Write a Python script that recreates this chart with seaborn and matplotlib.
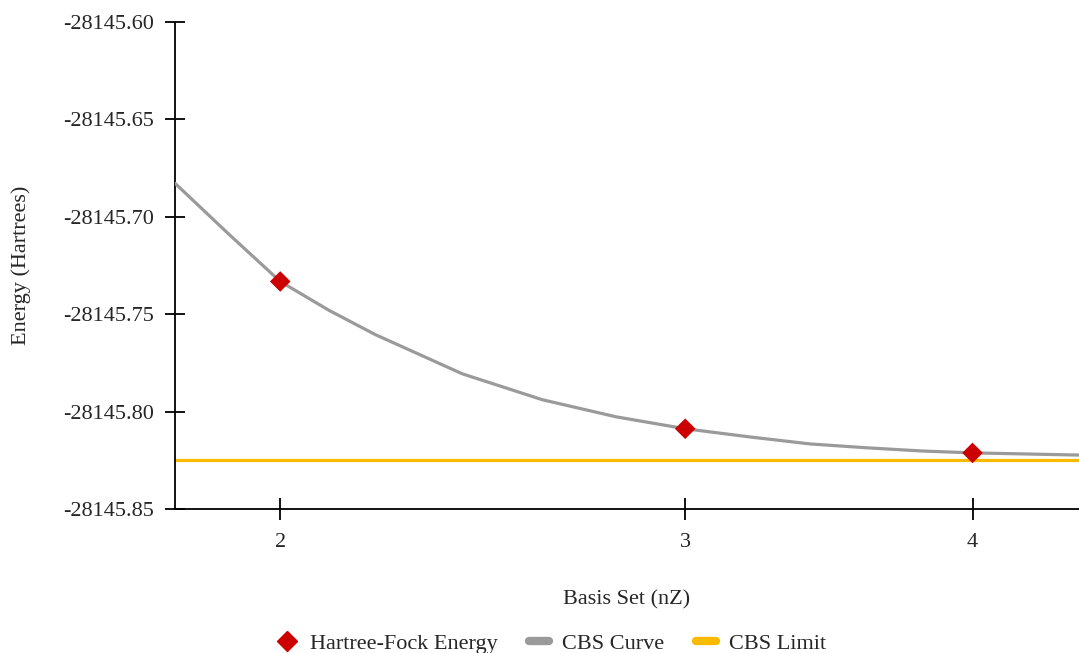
import numpy as np
import pandas as pd
import seaborn as sns
import matplotlib.pyplot as plt
from matplotlib.ticker import FixedLocator, FixedFormatter, NullLocator, FormatStrFormatter
from matplotlib.lines import Line2D

# --- data ---
basis_n = [2, 3, 4]
hf_energy = [-28145.7332, -28145.8088, -28145.8212]

curve_n = [1.8, 1.9, 2.0, 2.1, 2.2, 2.4, 2.6, 2.8, 3.0, 3.2, 3.4, 3.6, 3.8, 4.0, 4.2, 4.4, 4.45]
curve_energy = [-28145.6828, -28145.7090, -28145.7332, -28145.7480, -28145.7605,
                -28145.7806, -28145.7939, -28145.8027, -28145.8088, -28145.8130,
                -28145.8166, -28145.8186, -28145.8202, -28145.8212, -28145.8217,
                -28145.8222, -28145.8223]

cbs_limit = -28145.8248

hf_df = pd.DataFrame({"n": basis_n, "energy": hf_energy})
curve_df = pd.DataFrame({"n": curve_n, "energy": curve_energy})

sns.set_style("white")
plt.rcParams["font.family"] = ["Liberation Serif", "DejaVu Serif"]

RED = "#cc0000"
GRAY = "#9a9a9a"
GOLD = "#fbb900"

fig = plt.figure(figsize=(10.79, 6.53), dpi=100)
ax = fig.add_axes([175 / 1079, 1 - 509 / 653, 1 - 175 / 1079, (509 - 22) / 653])

ax.axhline(cbs_limit, color=GOLD, lw=2.3, zorder=2)
sns.lineplot(data=curve_df, x="n", y="energy", color=GRAY, lw=2.3, ax=ax, zorder=3)
sns.scatterplot(data=hf_df, x="n", y="energy", marker="D", s=110, color=RED,
                edgecolor="none", ax=ax, zorder=4)

ax.set_xscale("log")
ax.set_xlim(1.8, 4.45)
ax.set_ylim(-28145.85, -28145.60)
ax.xaxis.set_major_locator(FixedLocator(basis_n))
ax.xaxis.set_major_formatter(FixedFormatter([str(v) for v in basis_n]))
ax.xaxis.set_minor_locator(NullLocator())
ax.set_yticks(np.round(np.arange(-28145.85, -28145.59, 0.05), 2))
ax.yaxis.set_major_formatter(FormatStrFormatter("%.2f"))

for side in ["top", "right"]:
    ax.spines[side].set_visible(False)
for side in ["left", "bottom"]:
    ax.spines[side].set_color("black")
    ax.spines[side].set_linewidth(1.3)

ax.tick_params(axis="y", direction="inout", length=14, width=1.3, color="black",
               labelsize=16, pad=8, left=True)
ax.tick_params(axis="x", direction="inout", length=16, width=1.3, color="black",
               labelsize=16, pad=9, bottom=True)

ax.set_xlabel("Basis Set (nZ)", fontsize=16, labelpad=28)
ax.set_ylabel("Energy (Hartrees)", fontsize=16, labelpad=23)

handles = [
    Line2D([], [], marker="D", color=RED, ls="none", markersize=10),
    Line2D([], [], color=GRAY, lw=6),
    Line2D([], [], color=GOLD, lw=6),
]
fig.legend(handles, ["Hartree-Fock Energy", "CBS Curve", "CBS Limit"],
           loc="lower center", bbox_to_anchor=(0.511, -0.032), ncol=3, frameon=False,
           fontsize=16, handlelength=0.9, columnspacing=1.4, handletextpad=0.6)

fig.savefig("out.png", dpi=100)
